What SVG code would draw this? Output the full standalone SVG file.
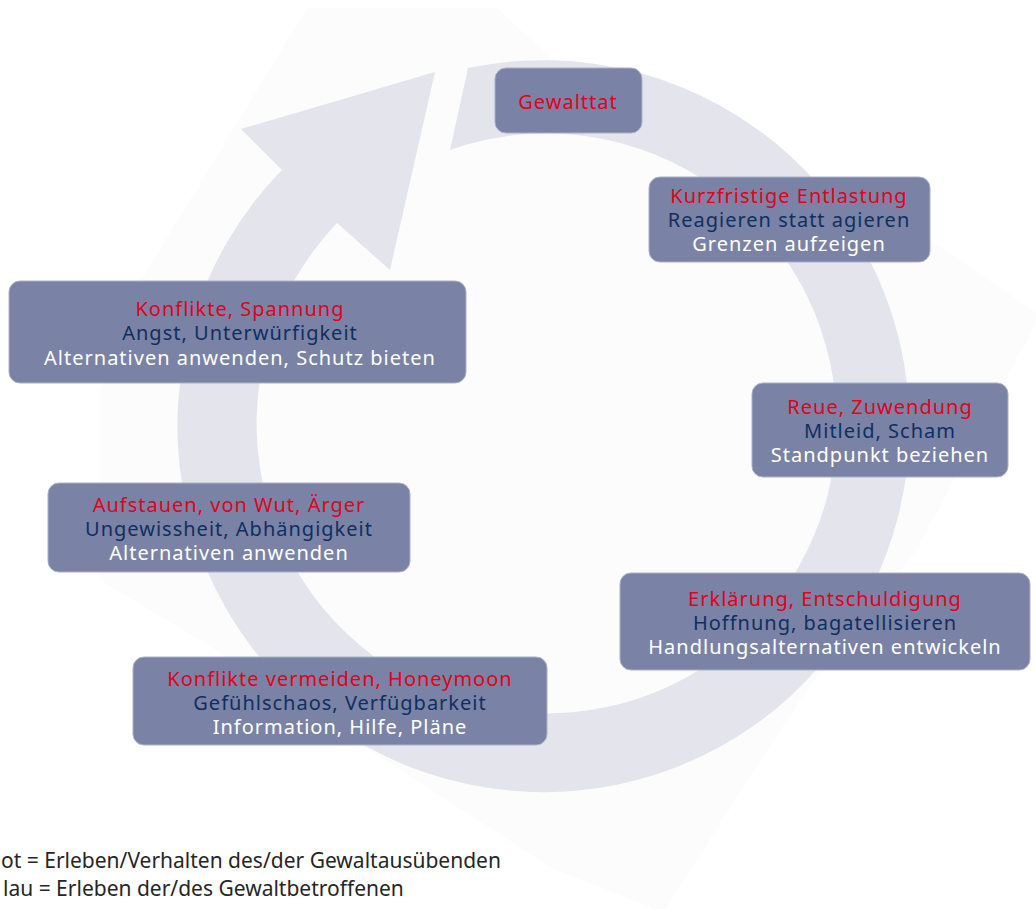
<svg xmlns="http://www.w3.org/2000/svg" width="1036" height="909" viewBox="0 0 1036 909">
  <style>
    .box { fill: #7a83a6; stroke: #aab0c8; stroke-width: 1; }
    .t { font-family: "Noto Sans", "Open Sans", sans-serif; font-size: 20px; letter-spacing: 1px; text-anchor: middle; }
    .r { fill: #e2001a; }
    .b { fill: #0f2f5f; }
    .w { fill: #ffffff; }
    .legend { font-family: "Noto Sans", "Open Sans", sans-serif; font-size: 21px; fill: #262626; }
  </style>
  <rect x="0" y="0" width="1036" height="909" fill="#ffffff"/>
  <g id="background">
    <path d="M 143,277 L 307,8 L 497,8 L 617,120 L 930,240 L 1040,315 L 917,550 L 800,700 L 663,912 L 550,867 L 200,640 L 100,580 L 100,390 Z" fill="#fcfcfd"/>
    <path d="M 468,68 A 366 366 0 1 1 282,170 L 241,129 L 435,72 L 390,270 L 337,223 A 290 290 0 1 0 450,150 Z" fill="#e3e4ec"/>
  </g>
  <g id="connectors"></g>
  <g id="node-gewalttat">
    <rect class="box" x="495" y="68" width="147" height="65" rx="11"/>
    <text class="t r" x="568" y="109">Gewalttat</text>
  </g>
  <g id="node-entlastung">
    <rect class="box" x="649" y="177" width="281" height="85" rx="11"/>
    <text class="t r" x="789" y="203">Kurzfristige Entlastung</text>
    <text class="t b" x="789" y="227">Reagieren statt agieren</text>
    <text class="t w" x="789" y="251">Grenzen aufzeigen</text>
  </g>
  <g id="node-reue">
    <rect class="box" x="752" y="383" width="256" height="94" rx="11"/>
    <text class="t r" x="880" y="414">Reue, Zuwendung</text>
    <text class="t b" x="880" y="438">Mitleid, Scham</text>
    <text class="t w" x="880" y="462">Standpunkt beziehen</text>
  </g>
  <g id="node-erklaerung">
    <rect class="box" x="620" y="573" width="410" height="97" rx="11"/>
    <text class="t r" x="825" y="606">Erklärung, Entschuldigung</text>
    <text class="t b" x="825" y="630">Hoffnung, bagatellisieren</text>
    <text class="t w" x="825" y="654">Handlungsalternativen entwickeln</text>
  </g>
  <g id="node-honeymoon">
    <rect class="box" x="133" y="657" width="414" height="88" rx="11"/>
    <text class="t r" x="340" y="686">Konflikte vermeiden, Honeymoon</text>
    <text class="t b" x="340" y="710">Gefühlschaos, Verfügbarkeit</text>
    <text class="t w" x="340" y="734">Information, Hilfe, Pläne</text>
  </g>
  <g id="node-aufstauen">
    <rect class="box" x="48" y="483" width="362" height="89" rx="11"/>
    <text class="t r" x="229" y="512">Aufstauen, von Wut, Ärger</text>
    <text class="t b" x="229" y="536">Ungewissheit, Abhängigkeit</text>
    <text class="t w" x="229" y="560">Alternativen anwenden</text>
  </g>
  <g id="node-spannung">
    <rect class="box" x="9" y="281" width="457" height="102" rx="11"/>
    <text class="t r" x="240" y="316">Konflikte, Spannung</text>
    <text class="t b" x="240" y="340">Angst, Unterwürfigkeit</text>
    <text class="t w" x="240" y="365">Alternativen anwenden, Schutz bieten</text>
  </g>
  <g id="legend">
    <text class="legend" x="1" y="868">ot = Erleben/Verhalten des/der Gewaltausübenden</text>
    <text class="legend" x="3" y="896">lau = Erleben der/des Gewaltbetroffenen</text>
  </g>
</svg>
